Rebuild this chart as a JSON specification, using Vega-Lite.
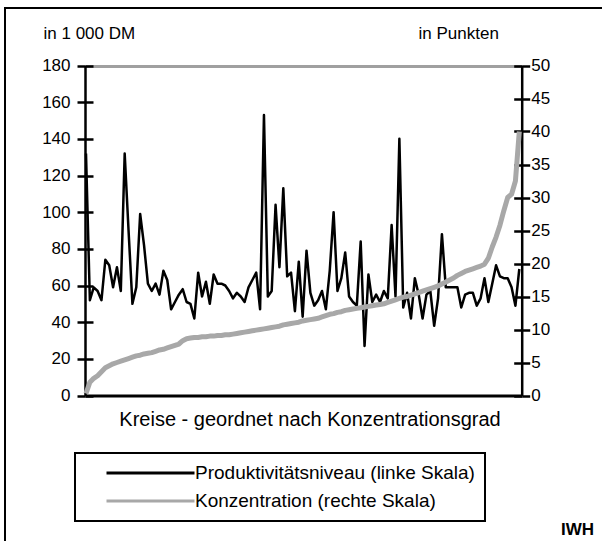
{
  "$schema": "https://vega.github.io/schema/vega-lite/v6.json",
  "width": 600,
  "height": 536,
  "autosize": {"type": "none"},
  "padding": {"left": 5, "top": 8, "right": -3, "bottom": -3},
  "background": "white",
  "title": {"text": "IWH", "orient": "bottom", "anchor": "end", "frame": "group", "baseline": "alphabetic", "offset": 0, "dx": -11, "dy": -9, "fontSize": 17, "fontWeight": "bold", "font": "Liberation Sans", "color": "black"},
  "config": {
    "view": {"stroke": "black", "strokeWidth": 2},
    "font": "Liberation Sans",
    "axis": {"labelFont": "Liberation Sans", "titleFont": "Liberation Sans", "labelColor": "black", "titleColor": "black", "domainColor": "black", "tickColor": "black", "titleFontWeight": "normal"},
    "legend": {"strokeWidth": 2}
  },
  "data": {"values": [
    {"i":1,"P":132,"K":0.3},{"i":2,"P":52,"K":2.0},{"i":3,"P":59,"K":2.6},{"i":4,"P":57,"K":3.0},{"i":5,"P":52,"K":3.6},
    {"i":6,"P":74,"K":4.2},{"i":7,"P":71,"K":4.5},{"i":8,"P":59,"K":4.8},{"i":9,"P":70,"K":5.0},{"i":10,"P":57,"K":5.2},
    {"i":11,"P":132,"K":5.4},{"i":12,"P":90,"K":5.6},{"i":13,"P":50,"K":5.8},{"i":14,"P":59,"K":6.0},{"i":15,"P":99,"K":6.1},
    {"i":16,"P":82,"K":6.3},{"i":17,"P":61,"K":6.4},{"i":18,"P":57,"K":6.5},{"i":19,"P":61,"K":6.7},{"i":20,"P":55,"K":6.9},
    {"i":21,"P":68,"K":7.0},{"i":22,"P":63,"K":7.2},{"i":23,"P":47,"K":7.4},{"i":24,"P":51,"K":7.6},{"i":25,"P":55,"K":7.8},
    {"i":26,"P":58,"K":8.3},{"i":27,"P":51,"K":8.6},{"i":28,"P":50,"K":8.7},{"i":29,"P":42,"K":8.8},{"i":30,"P":67,"K":8.8},
    {"i":31,"P":54,"K":8.9},{"i":32,"P":62,"K":8.9},{"i":33,"P":50,"K":9.0},{"i":34,"P":66,"K":9.0},{"i":35,"P":61,"K":9.1},
    {"i":36,"P":61,"K":9.1},{"i":37,"P":60,"K":9.2},{"i":38,"P":57,"K":9.2},{"i":39,"P":53,"K":9.3},{"i":40,"P":56,"K":9.4},
    {"i":41,"P":54,"K":9.5},{"i":42,"P":51,"K":9.6},{"i":43,"P":59,"K":9.7},{"i":44,"P":63,"K":9.8},{"i":45,"P":67,"K":9.9},
    {"i":46,"P":47,"K":10.0},{"i":47,"P":153,"K":10.1},{"i":48,"P":54,"K":10.2},{"i":49,"P":57,"K":10.3},{"i":50,"P":104,"K":10.4},
    {"i":51,"P":70,"K":10.5},{"i":52,"P":113,"K":10.7},{"i":53,"P":65,"K":10.8},{"i":54,"P":67,"K":10.9},{"i":55,"P":46,"K":11.0},
    {"i":56,"P":73,"K":11.1},{"i":57,"P":43,"K":11.3},{"i":58,"P":79,"K":11.4},{"i":59,"P":56,"K":11.5},{"i":60,"P":49,"K":11.6},
    {"i":61,"P":52,"K":11.7},{"i":62,"P":57,"K":11.9},{"i":63,"P":47,"K":12.1},{"i":64,"P":68,"K":12.3},{"i":65,"P":100,"K":12.4},
    {"i":66,"P":57,"K":12.6},{"i":67,"P":64,"K":12.7},{"i":68,"P":78,"K":12.9},{"i":69,"P":54,"K":13.0},{"i":70,"P":51,"K":13.1},
    {"i":71,"P":49,"K":13.2},{"i":72,"P":84,"K":13.3},{"i":73,"P":27,"K":13.4},{"i":74,"P":66,"K":13.5},{"i":75,"P":51,"K":13.6},
    {"i":76,"P":55,"K":13.7},{"i":77,"P":51,"K":13.8},{"i":78,"P":57,"K":13.9},{"i":79,"P":53,"K":14.1},{"i":80,"P":93,"K":14.3},
    {"i":81,"P":54,"K":14.5},{"i":82,"P":140,"K":14.7},{"i":83,"P":48,"K":14.9},{"i":84,"P":56,"K":15.0},{"i":85,"P":42,"K":15.2},
    {"i":86,"P":64,"K":15.4},{"i":87,"P":55,"K":15.6},{"i":88,"P":42,"K":15.8},{"i":89,"P":55,"K":16.0},{"i":90,"P":57,"K":16.2},
    {"i":91,"P":38,"K":16.4},{"i":92,"P":53,"K":16.6},{"i":93,"P":88,"K":16.9},{"i":94,"P":59,"K":17.2},{"i":95,"P":59,"K":17.5},
    {"i":96,"P":59,"K":17.8},{"i":97,"P":59,"K":18.2},{"i":98,"P":48,"K":18.5},{"i":99,"P":55,"K":18.8},{"i":100,"P":56,"K":19.0},
    {"i":101,"P":56,"K":19.2},{"i":102,"P":49,"K":19.4},{"i":103,"P":53,"K":19.6},{"i":104,"P":64,"K":19.9},{"i":105,"P":51,"K":20.8},
    {"i":106,"P":61,"K":22.5},{"i":107,"P":71,"K":24.0},{"i":108,"P":65,"K":25.8},{"i":109,"P":64,"K":28.0},{"i":110,"P":64,"K":30.0},
    {"i":111,"P":59,"K":30.5},{"i":112,"P":49,"K":32.5},{"i":113,"P":69,"K":40.0}
  ]},
  "encoding": {
    "x": {"field": "i", "type": "quantitative",
      "scale": {"domain": [0.742, 113.62], "range": [80, 516.7], "nice": false, "zero": false},
      "axis": {"orient": "bottom", "offset": -148.5, "values": [0.742, 113.62], "domain": true, "domainWidth": 3, "ticks": false, "labels": false, "grid": false, "title": "Kreise - geordnet nach Konzentrationsgrad", "titleFontSize": 20, "titlePadding": 14, "titleX": 304.5, "titleAlign": "center", "titleBaseline": "top"}
    }
  },
  "layer": [
    {
      "mark": {"type": "line", "strokeWidth": 2.5, "strokeJoin": "round"},
      "encoding": {
        "y": {"field": "P", "type": "quantitative",
          "scale": {"domain": [0, 180], "range": [387.5, 57.5], "nice": false},
          "axis": {"orient": "left", "offset": -80, "values": [0,20,40,60,80,100,120,140,160,180], "domain": true, "domainWidth": 2.5, "tickSize": 8, "tickWidth": 2.5, "labelFontSize": 17, "labelPadding": 7, "title": "in 1 000 DM", "titleFontSize": 17, "titleAngle": 0, "titleAlign": "left", "titleBaseline": "alphabetic", "titleX": -42, "titleY": 30, "grid": true, "gridColor": "#a0a0a0", "gridWidth": 3, "gridOpacity": {"condition": {"test": "datum.value == 180", "value": 1}, "value": 0}}
        },
        "color": {"datum": "Produktivitätsniveau (linke Skala)", "type": "nominal",
          "scale": {"domain": ["Produktivitätsniveau (linke Skala)", "Konzentration (rechte Skala)"], "range": ["#000000", "#a8a8a8"]},
          "legend": {"orient": "none", "legendX": 70, "legendY": 445, "title": null, "direction": "vertical", "padding": 10, "strokeColor": "black", "symbolType": "stroke", "symbolSize": 7744, "symbolStrokeWidth": 3, "symbolOffset": 20, "labelOffset": -1, "labelFontSize": 19, "labelFont": "Liberation Sans", "labelColor": "black", "labelLimit": 420, "rowPadding": 8, "clipHeight": 20}
        }
      }
    },
    {
      "mark": {"type": "line", "strokeWidth": 5, "strokeJoin": "round"},
      "encoding": {
        "y": {"field": "K", "type": "quantitative",
          "scale": {"domain": [0, 50], "range": [387.5, 57.5], "nice": false},
          "axis": {"orient": "right", "offset": -83.3, "values": [0,5,10,15,20,25,30,35,40,45,50], "domain": true, "domainWidth": 2.5, "tickSize": 8, "tickWidth": 2.5, "labelFontSize": 17, "labelPadding": 1, "title": "in Punkten", "titleFontSize": 17, "titleAngle": 0, "titleAlign": "left", "titleBaseline": "alphabetic", "titleX": -103.7, "titleY": 30, "grid": false}
        },
        "color": {"datum": "Konzentration (rechte Skala)", "type": "nominal"}
      }
    },
    {
      "mark": {"type": "line", "opacity": 0},
      "encoding": {
        "y": {"field": "P", "type": "quantitative",
          "scale": {"domain": [0, 180], "range": [387.5, 57.5], "nice": false},
          "axis": {"orient": "left", "offset": -80, "values": [0,20,40,60,80,100,120,140,160,180], "domain": false, "tickSize": -8, "tickWidth": 2.5, "labels": false, "title": null, "grid": false}
        }
      }
    },
    {
      "mark": {"type": "line", "opacity": 0},
      "encoding": {
        "y": {"field": "K", "type": "quantitative",
          "scale": {"domain": [0, 50], "range": [387.5, 57.5], "nice": false},
          "axis": {"orient": "right", "offset": -83.3, "values": [0,5,10,15,20,25,30,35,40,45,50], "domain": false, "tickSize": -8, "tickWidth": 2.5, "labels": false, "title": null, "grid": false}
        }
      }
    }
  ],
  "resolve": {"scale": {"y": "independent"}}
}
